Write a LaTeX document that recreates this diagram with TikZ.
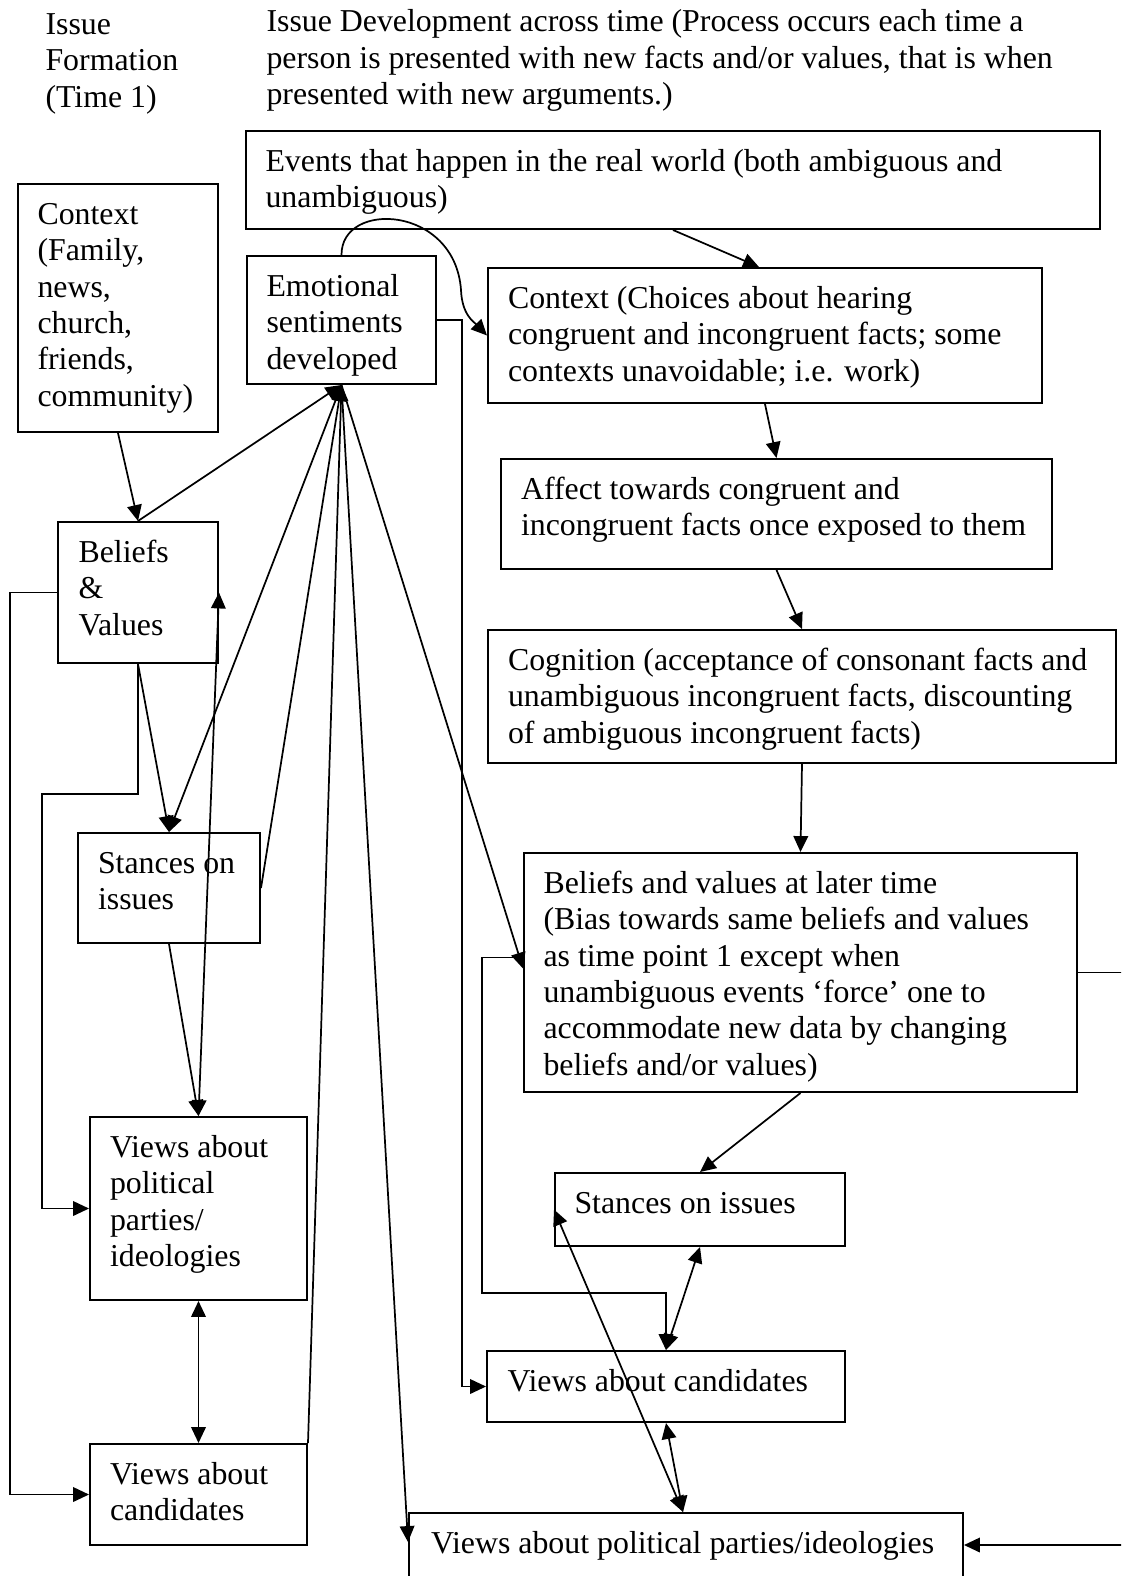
\documentclass[tikz,border=0pt]{standalone}
\usepackage{fontspec}
\setmainfont{Liberation Serif}
\usetikzlibrary{arrows.meta,fit}
\begin{document}
\begin{tikzpicture}[x=0.3768pt,y=-0.3768pt,
  box/.style={draw, line width=0.75pt, inner sep=0pt, fit={#1}},
  txt/.style={anchor=north west, inner sep=0pt, align=left, font=\fontsize{12}{13.7}\selectfont},
  conn/.style={line width=0.65pt},
  arr/.style={conn, -{Triangle[length=6pt,width=5.5pt]}},
  darr/.style={conn, {Triangle[length=6pt,width=5.5pt]}-{Triangle[length=6pt,width=5.5pt]}}]
\useasboundingbox (0,0) rectangle (1121,1576);
\clip (0,0) rectangle (1121,1576);

% titles
\node[txt] (title1) at (45,8.5) {\strut Issue\\Formation\\(Time 1)};
\node[txt] (title2) at (266,6) {\strut Issue Development across time (Process occurs each time a\\person is presented with new facts and/or values, that is when\\presented with new arguments.)};

% boxes
\node[box={(18,184) (218,432)}] (ctx1) {};
\node[box={(58,522) (218,663)}] (bv1) {};
\node[box={(247,256) (436,384)}] (emo) {};
\node[box={(246,131) (1100,229)}] (events) {};
\node[box={(488,268) (1042,403)}] (ctxc) {};
\node[box={(501,459) (1052,569)}] (affect) {};
\node[box={(488,630) (1116,763)}] (cog) {};
\node[box={(524,853) (1077,1092)}] (bvl) {};
\node[box={(78,833) (260,943)}] (st1) {};
\node[box={(90,1117) (307,1300)}] (vp1) {};
\node[box={(90,1444) (307,1545)}] (vc1) {};
\node[box={(555,1173) (845,1246)}] (stL) {};
\node[box={(487,1351) (845,1422)}] (vcL) {};
\node[box={(409,1513) (963,1600)}] (vpL) {};

% texts
\node[txt] (ctx1T) at ([shift={(20,15.5)}]ctx1.north west) {\strut Context\\(Family,\\news,\\church,\\friends,\\community)};
\node[txt] (bv1T) at ([shift={(21,15.5)}]bv1.north west) {\strut Beliefs\\\&\\Values};
\node[txt] (emoT) at ([shift={(20,15.5)}]emo.north west) {\strut Emotional\\sentiments\\developed};
\node[txt] (eventsT) at ([shift={(20,15.5)}]events.north west) {\strut Events that happen in the real world (both ambiguous and\\unambiguous)};
\node[txt] (ctxcT) at ([shift={(20.5,15.5)}]ctxc.north west) {\strut Context (Choices about hearing\\congruent and incongruent facts; some\\contexts unavoidable; i.e. work)};
\node[txt] (affectT) at ([shift={(20.5,15.5)}]affect.north west) {\strut Affect towards congruent and\\incongruent facts once exposed to them};
\node[txt] (cogT) at ([shift={(20.5,15.5)}]cog.north west) {\strut Cognition (acceptance of consonant facts and\\unambiguous incongruent facts, discounting\\of ambiguous incongruent facts)};
\node[txt] (bvlT) at ([shift={(20,15.5)}]bvl.north west) {\strut Beliefs and values at later time\\(Bias towards same beliefs and values\\as time point 1 except when\\unambiguous events ‘force’ one to\\accommodate new data by changing\\beliefs and/or values)};
\node[txt] (st1T) at ([shift={(20.5,15.5)}]st1.north west) {\strut Stances on\\issues};
\node[txt] (vp1T) at ([shift={(20.5,15.5)}]vp1.north west) {\strut Views about\\political\\parties/\\ideologies};
\node[txt] (vc1T) at ([shift={(20.5,15.5)}]vc1.north west) {\strut Views about\\candidates};
\node[txt] (stLT) at ([shift={(20,15.5)}]stL.north west) {\strut Stances on issues};
\node[txt] (vcLT) at ([shift={(21,15.5)}]vcL.north west) {\strut Views about candidates};
\node[txt] (vpLT) at ([shift={(22.5,15.5)}]vpL.north west) {\strut Views about political parties/ideologies};

% helper coordinates
\coordinate (vpLt) at ([shift={(275,0)}]vpL.north west);
\coordinate (vpLl) at ([shift={(0,30)}]vpL.north west);
\coordinate (vpLr) at ([shift={(0,33)}]vpL.north east);
\coordinate (bvlw) at ([shift={(0,-15)}]bvl.west);
\coordinate (bvlE) at ([shift={(0,-4)}]bvl.west);
\coordinate (ctxcN) at ([shift={(-6,0)}]ctxc.north);
\coordinate (XL) at (10,0);
\coordinate (XM) at (42,0);
\coordinate (YM) at (0,794);
\coordinate (X462) at (462,0);
\coordinate (X482) at (482,0);
\coordinate (Y1293) at (0,1293);
\coordinate (XR) at (1135,0);

% left side (time 1)
\draw[arr] (ctx1.south) -- (bv1.north);
\draw[arr] (bv1.north) -- (emo.south);
\draw[arr] (bv1.south) -- (st1.north);
\draw[arr] (emo.south) -- (st1.north);
\draw[arr] (st1.east) -- (emo.south);
\draw[arr] (vc1.north east) -- (emo.south);
\draw[arr] (emo.south) -- (vpLl);
\draw[arr] (emo.south) -- (bvlE);
\draw[arr] (bv1.south) |- (XM |- YM) |- (vp1.west);
\draw[arr] (bv1.west) -| (vc1.west -| XL) -- (vc1.west);
\draw[darr] (vp1.north) -- (bv1.east);
\draw[arr] (st1.south) -- (vp1.north);
\draw[darr] (vp1.south) -- (vc1.north);

% emotional to the right side
\draw[arr] (emo.north) .. controls (341,200) and (455,205) .. (461,290) .. controls (462,315) and (474,322) .. (ctxc.west);
\draw[arr] (emo.east) -| (vcL.west -| X462) -- (vcL.west);

% right side (later time)
\draw[arr] (events.south) -- (ctxcN);
\draw[arr] (ctxc.south) -- (affect.north);
\draw[arr] (affect.south) -- (cog.north);
\draw[arr] (cog.south) -- (bvl.north);
\draw[arr] (bvl.south) -- (stL.north);
\draw[arr] (bvl.east) -| (vpLr -| XR) -- (vpLr);
\draw[arr] (bvlw) -| (X482 |- Y1293) -| (vcL.north);
\draw[darr] (stL.south) -- (vcL.north);
\draw[darr] (vcL.south) -- (vpLt);
\draw[darr] (stL.west) -- (vpLt);
\end{tikzpicture}
\end{document}
